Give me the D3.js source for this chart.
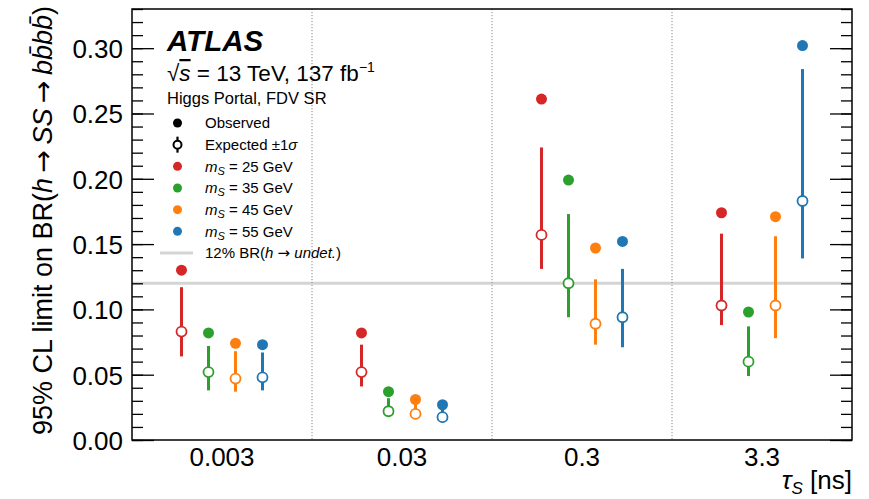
<!DOCTYPE html>
<html>
<head>
<meta charset="utf-8">
<script src="https://cdn.jsdelivr.net/npm/d3@7"></script>
<style>
  html, body { margin: 0; padding: 0; background: #fff; }
  svg { display: block; font-family: "Liberation Sans", Arial, sans-serif; }
  .tickLab { font-size: 26px; fill: #000; }
  .leg { font-size: 15px; }
  .arr { font-family: "DejaVu Sans", sans-serif; }
</style>
</head>
<body>
<svg id="chart" width="869" height="499"></svg>
<script>
// lifetimes (x categories) and scalar masses (series)
const taus = ["0.003", "0.03", "0.3", "3.3"];
const masses = ["25", "35", "45", "55"];
const massColors = ["#d62728", "#2ca02c", "#ff7f0e", "#1f77b4"];

// one row per mass, one value per lifetime
const observed = [
  [0.130, 0.082, 0.261, 0.174],
  [0.082, 0.037, 0.199, 0.098],
  [0.074, 0.031, 0.147, 0.171],
  [0.073, 0.027, 0.152, 0.302]
];
const expected = [
  [0.083, 0.052, 0.157, 0.103],
  [0.052, 0.022, 0.120, 0.060],
  [0.047, 0.020, 0.089, 0.103],
  [0.048, 0.0175, 0.094, 0.183]
];
const expUp = [
  [0.117, 0.073, 0.224, 0.158],
  [0.072, 0.032, 0.173, 0.087],
  [0.068, 0.027, 0.123, 0.156],
  [0.067, 0.024, 0.131, 0.284]
];
const expDown = [
  [0.064, 0.041, 0.131, 0.088],
  [0.038, 0.018, 0.094, 0.049],
  [0.037, 0.016, 0.073, 0.078],
  [0.038, 0.0135, 0.071, 0.139]
];
const undetBR = 0.12;
const yTicks = [0, 0.05, 0.10, 0.15, 0.20, 0.25, 0.30];
const yMinorTicks = d3.range(0, 0.331, 0.01);

const svg = d3.select("#chart");
const margin = { top: 9, right: 17, bottom: 59, left: 132 };
const W = 869 - margin.left - margin.right;
const H = 499 - margin.top - margin.bottom;
const g = svg.append("g").attr("transform", `translate(${margin.left},${margin.top})`);

const x = d3.scaleBand().domain(taus).range([0, W]);
const xm = d3.scalePoint().domain(masses)
  .range([-0.225 * x.bandwidth(), 0.225 * x.bandwidth()]);
const y = d3.scaleLinear().domain([0, 0.33]).range([H, 0]);

const points = [];
masses.forEach((m, i) => {
  taus.forEach((t, j) => {
    points.push({
      tau: t, mass: m, color: massColors[i],
      obs: observed[i][j], exp: expected[i][j],
      hi: expUp[i][j], lo: expDown[i][j]
    });
  });
});
const px = (d) => x(d.tau) + x.bandwidth() / 2 + xm(d.mass);

// 12% reference line
g.append("line")
  .attr("x1", 0).attr("x2", W)
  .attr("y1", y(undetBR)).attr("y2", y(undetBR))
  .attr("stroke", "#d4d4d4").attr("stroke-width", 3);

// dotted separators between lifetimes
g.selectAll(".sep")
  .data(taus.slice(1))
  .enter().append("line")
  .attr("class", "sep")
  .attr("x1", (d) => x(d)).attr("x2", (d) => x(d))
  .attr("y1", 0).attr("y2", H)
  .attr("stroke", "#8c8c8c").attr("stroke-width", 1)
  .attr("stroke-dasharray", "1.2,1.8");

// y axes (inward ticks, both sides)
const yAxisL = g.append("g")
  .call(d3.axisLeft(y).tickValues(yTicks).tickSize(-22).tickPadding(9)
    .tickFormat(d3.format(".2f")));
yAxisL.select(".domain").remove();
yAxisL.selectAll("text").attr("class", "tickLab").attr("dy", "0.36em");
yAxisL.selectAll("line").attr("stroke-width", 1.3);

g.append("g")
  .call(d3.axisLeft(y).tickValues(yMinorTicks).tickSize(-11).tickFormat(""))
  .call((s) => s.select(".domain").remove())
  .selectAll("line").attr("stroke-width", 1.3);

g.append("g").attr("transform", `translate(${W},0)`)
  .call(d3.axisRight(y).tickValues(yTicks).tickSize(-22).tickFormat(""))
  .call((s) => s.select(".domain").remove())
  .selectAll("line").attr("stroke-width", 1.3);

g.append("g").attr("transform", `translate(${W},0)`)
  .call(d3.axisRight(y).tickValues(yMinorTicks).tickSize(-11).tickFormat(""))
  .call((s) => s.select(".domain").remove())
  .selectAll("line").attr("stroke-width", 1.3);

// x axis labels
const xAxis = g.append("g").attr("transform", `translate(0,${H})`)
  .call(d3.axisBottom(x).tickSize(0).tickPadding(8));
xAxis.select(".domain").remove();
xAxis.selectAll("text").attr("class", "tickLab");

// frame
g.append("rect")
  .attr("width", W).attr("height", H)
  .attr("fill", "none").attr("stroke", "#000").attr("stroke-width", 1.5);

// expected +-1 sigma bars
g.selectAll(".err")
  .data(points)
  .enter().append("line")
  .attr("class", "err")
  .attr("x1", px).attr("x2", px)
  .attr("y1", (d) => y(d.lo)).attr("y2", (d) => y(d.hi))
  .attr("stroke", (d) => d.color).attr("stroke-width", 3);

// expected (open)
g.selectAll(".expPt")
  .data(points)
  .enter().append("circle")
  .attr("class", "expPt")
  .attr("cx", px).attr("cy", (d) => y(d.exp))
  .attr("r", 5)
  .attr("fill", "#fff").attr("stroke", (d) => d.color).attr("stroke-width", 1.8);

// observed (filled)
g.selectAll(".obsPt")
  .data(points)
  .enter().append("circle")
  .attr("class", "obsPt")
  .attr("cx", px).attr("cy", (d) => y(d.obs))
  .attr("r", 5.5)
  .attr("fill", (d) => d.color);

// axis titles
svg.append("text")
  .attr("transform", `translate(52,6) rotate(-90)`)
  .attr("text-anchor", "end")
  .style("font-size", "27px")
  .html('95% CL limit on BR(<tspan font-style="italic">h</tspan>\u2009<tspan class="arr">→</tspan>\u2009<tspan font-style="italic">SS</tspan>\u2009<tspan class="arr">→</tspan>\u2009<tspan font-style="italic">bb\u0304bb\u0304</tspan>)');

svg.append("text")
  .attr("x", margin.left + W)
  .attr("y", 489)
  .attr("text-anchor", "end")
  .style("font-size", "26px")
  .html('<tspan font-style="italic">τ</tspan><tspan font-style="italic" font-size="17px" dy="5">S</tspan><tspan dy="-5"> [ns]</tspan>');

// labels block
const lx = 167;
svg.append("text")
  .attr("x", lx).attr("y", 51)
  .style("font-size", "29.5px").style("font-weight", "bold").style("font-style", "italic")
  .text("ATLAS");

svg.append("text")
  .attr("x", lx).attr("y", 81)
  .style("font-size", "22.5px")
  .html('√<tspan font-style="italic" text-decoration="overline">s</tspan> = 13 TeV, 137 fb<tspan font-size="14px" dy="-9">−1</tspan>');

svg.append("text")
  .attr("x", lx).attr("y", 104)
  .style("font-size", "16.5px")
  .text("Higgs Portal, FDV SR");

// legend
const legRows = [
  { kind: "obs", label: "Observed" },
  { kind: "exp", label: 'Expected ±1<tspan font-style="italic">σ</tspan>' }
].concat(masses.map((m, i) => ({
  kind: "mass", color: massColors[i],
  label: `<tspan font-style="italic">m</tspan><tspan font-style="italic" font-size="11px" dy="3">S</tspan><tspan dy="-3"> = ${m} GeV</tspan>`
}))).concat([{ kind: "line", label: '12% BR(<tspan font-style="italic">h</tspan> <tspan class="arr">→</tspan> <tspan font-style="italic">undet.</tspan>)' }]);

const rowY = d3.scalePoint().domain(d3.range(legRows.length)).range([123, 253]);
const leg = svg.append("g");
legRows.forEach((r, i) => {
  const ry = rowY(i);
  const mx = 177.5;
  if (r.kind === "obs") {
    leg.append("circle").attr("cx", mx).attr("cy", ry).attr("r", 4.5).attr("fill", "#000");
  } else if (r.kind === "exp") {
    leg.append("line").attr("x1", mx).attr("x2", mx).attr("y1", ry - 8).attr("y2", ry + 8)
      .attr("stroke", "#000").attr("stroke-width", 2.2);
    leg.append("circle").attr("cx", mx).attr("cy", ry).attr("r", 4)
      .attr("fill", "#fff").attr("stroke", "#000").attr("stroke-width", 2);
  } else if (r.kind === "mass") {
    leg.append("circle").attr("cx", mx).attr("cy", ry).attr("r", 4.5).attr("fill", r.color);
  } else {
    leg.append("line").attr("x1", 160).attr("x2", 193).attr("y1", ry).attr("y2", ry)
      .attr("stroke", "#d4d4d4").attr("stroke-width", 3);
  }
  leg.append("text")
    .attr("class", "leg")
    .attr("x", 205).attr("y", ry).attr("dy", "0.36em")
    .html(r.label);
});
</script>
</body>
</html>
